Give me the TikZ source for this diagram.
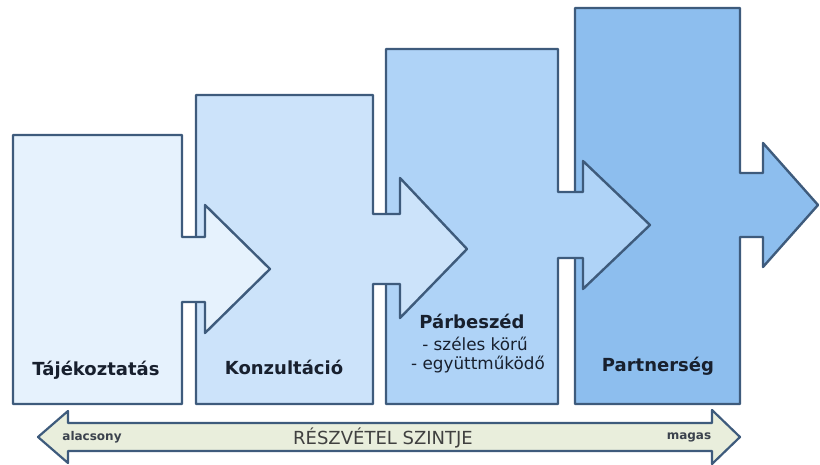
\documentclass[tikz,border=0pt]{standalone}
\usepackage{fontspec}
\setmainfont{DejaVu Sans}
\begin{document}
\begin{tikzpicture}[x=1pt,y=-1pt,
  outl/.style={draw=edgec,line width=2.4pt,line join=round},
  lbl/.style={font=\fontsize{18}{20}\selectfont\bfseries,text=txtc,inner sep=0pt,anchor=base},
  sub/.style={font=\fontsize{16.8}{20}\selectfont,text=txtc,inner sep=0pt,anchor=base}]
\definecolor{edgec}{HTML}{3E5B7C}
\definecolor{txtc}{HTML}{18202E}
\definecolor{fa}{HTML}{E6F2FD}
\definecolor{fb}{HTML}{CCE3FA}
\definecolor{fc}{HTML}{AFD3F7}
\definecolor{fd}{HTML}{8DBEEE}
\definecolor{fe}{HTML}{E9EEDC}
\useasboundingbox (0,0) rectangle (820,465);
% draw from right to left so that each arrow lies over the next box
\path[outl,fill=fd] (575,8) -- (740,8) -- (740,173) -- (763,173) -- (763,143) -- (818,205) -- (763,267) -- (763,237) -- (740,237) -- (740,404) -- (575,404) -- cycle;
\path[outl,fill=fc] (386,49) -- (558,49) -- (558,192) -- (583,192) -- (583,161) -- (650,225) -- (583,289) -- (583,258) -- (558,258) -- (558,404) -- (386,404) -- cycle;
\path[outl,fill=fb] (196,95) -- (373,95) -- (373,214) -- (400,214) -- (400,178) -- (467,249) -- (400,318) -- (400,284) -- (373,284) -- (373,404) -- (196,404) -- cycle;
\path[outl,fill=fa] (13,135) -- (182,135) -- (182,237) -- (205,237) -- (205,205) -- (270,269) -- (205,333) -- (205,302) -- (182,302) -- (182,404) -- (13,404) -- cycle;
% labels
\node[lbl] (t1) at (96,375) {Tájékoztatás};
\node[lbl] (t2) at (284,374) {Konzultáció};
\node[lbl] (t3) at (472,328) {Párbeszéd};
\node[sub] (t3a) at (475,350) {- széles körű};
\node[sub] (t3b) at (478,370) {- együttműködő};
\node[lbl] (t4) at (658,371) {Partnerség};
% bottom double arrow
\path[outl,line width=2.2pt,fill=fe] (38,437) -- (68,411) -- (68,423) -- (712,423) -- (712,410) -- (740,437) -- (712,464) -- (712,451) -- (68,451) -- (68,463) -- cycle;
\node[font=\fontsize{12}{14}\selectfont\bfseries,text=txtc!85,inner sep=0pt] (lo) at (92,437) {alacsony};
\node[font=\fontsize{12}{14}\selectfont\bfseries,text=txtc!85,inner sep=0pt] (hi) at (689,437) {magas};
\node[font=\fontsize{18}{20}\selectfont,text=black!75,inner sep=0pt] (mid) at (383,438) {RÉSZVÉTEL SZINTJE};
\end{tikzpicture}
\end{document}
